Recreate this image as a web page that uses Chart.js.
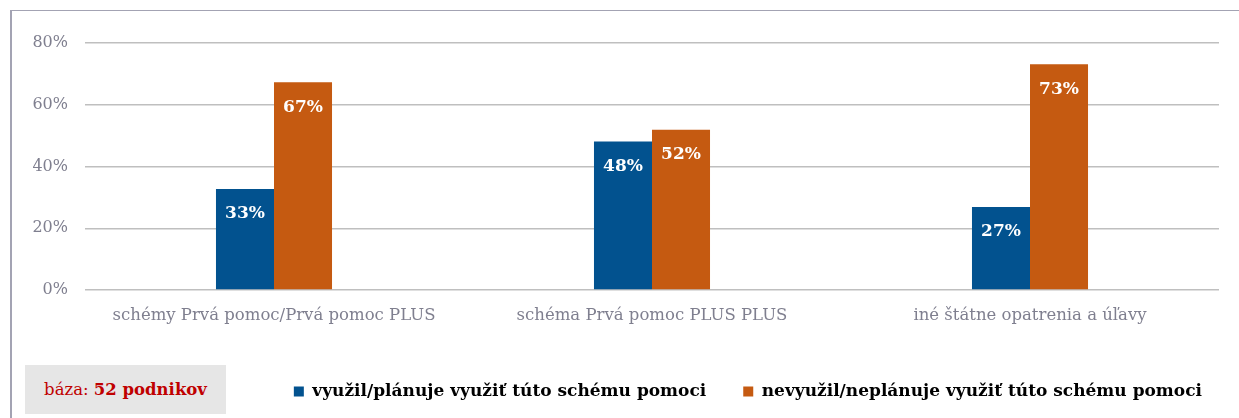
<!DOCTYPE html>
<html>
<head>
<meta charset="utf-8">
<script src="https://cdn.jsdelivr.net/npm/chart.js@4"></script>
<style>
	html, body {margin: 0; padding: 0; background: #ffffff; overflow: hidden;}
	#wrap {position: relative; width: 1239px; height: 418px;}
	#frame {position: absolute; left: 10px; top: 10px; right: 0; bottom: 0;
		border-left: 2px solid #a3a3b3; border-top: 1px solid #a3a3b3;}
	#chart {position: absolute; left: 0; top: 0;}
	#base {position: absolute; left: 25px; top: 365px; width: 201px; height: 49px;
		background: #e6e6e6; color: #c00000; font: 16.5px "DejaVu Serif", serif;
		display: flex; align-items: center; justify-content: center; white-space: pre;}
</style>
</head>
<body>
<div id="wrap">
	<div id="frame"></div>
	<canvas id="chart" width="1239" height="418"></canvas>
	<div id="base">báza: <b>52 podnikov</b></div>
</div>
<script>
// chart data
const categories = ['schémy Prvá pomoc/Prvá pomoc PLUS', 'schéma Prvá pomoc PLUS PLUS', 'iné štátne opatrenia a úľavy'];
const seriesNames = ['využil/plánuje využiť túto schému pomoci', 'nevyužil/neplánuje využiť túto schému pomoci'];
const usedValues = [32.7, 48.1, 26.9];
const notUsedValues = [67.3, 51.9, 73.1];
const yTicks = [0, 20, 40, 60, 80];

const fontFamily = '"DejaVu Serif", serif';
const grey = '#7f7f8f';

// white percentage labels inside the top of each bar
const barLabels = {
	id: 'barLabels',
	afterDatasetsDraw(chart) {
		let ctx = chart.ctx;
		ctx.save();
		ctx.font = 'bold 17px ' + fontFamily;
		ctx.fillStyle = '#ffffff';
		ctx.textAlign = 'center';
		ctx.textBaseline = 'middle';
		chart.data.datasets.forEach((ds, i) => {
			chart.getDatasetMeta(i).data.forEach((bar, j) => {
				ctx.fillText(Math.round(ds.data[j]) + '%', bar.x, bar.y + 25);
			});
		});
		ctx.restore();
	}
};

let ctx = document.getElementById('chart').getContext('2d');

let config = {
	type: 'bar',
	data: {
		labels: categories,
		datasets: [{
			label: seriesNames[0],
			data: usedValues,
			backgroundColor: '#02528f',
			barPercentage: 1.0,
			categoryPercentage: 0.307
		}, {
			label: seriesNames[1],
			data: notUsedValues,
			backgroundColor: '#c55a11',
			barPercentage: 1.0,
			categoryPercentage: 0.307
		}]
	},
	options: {
		responsive: false,
		animation: false,
		layout: {
			padding: {top: 43, right: 0, bottom: 8, left: 0}
		},
		plugins: {
			tooltip: {enabled: false},
			legend: {
				position: 'bottom',
				align: 'end',
				labels: {
					boxWidth: 10,
					boxHeight: 10,
					padding: 37,
					color: '#000000',
					font: {family: fontFamily, size: 17, weight: 'bold'}
				}
			}
		},
		scales: {
			x: {
				grid: {display: false},
				border: {display: false},
				ticks: {
					color: grey,
					padding: 8,
					font: {family: fontFamily, size: 16.5}
				},
				afterFit(scale) { scale.height = 56; }
			},
			y: {
				min: 0,
				max: 80,
				afterBuildTicks(scale) { scale.ticks = yTicks.map(v => ({value: v})); },
				grid: {color: '#bfbfbf', lineWidth: 1.5, drawTicks: false},
				border: {display: false},
				ticks: {
					color: grey,
					padding: 17,
					font: {family: fontFamily, size: 16},
					callback: v => v + '%'
				},
				afterFit(scale) { scale.width = 85; }
			},
			// empty right axis, only keeps the plot clear of the right edge
			yRight: {
				position: 'right',
				grid: {display: false},
				border: {display: false},
				ticks: {display: false},
				afterFit(scale) { scale.width = 20; }
			}
		}
	},
	plugins: [barLabels]
};

let chart = new Chart(ctx, config);
</script>
</body>
</html>
